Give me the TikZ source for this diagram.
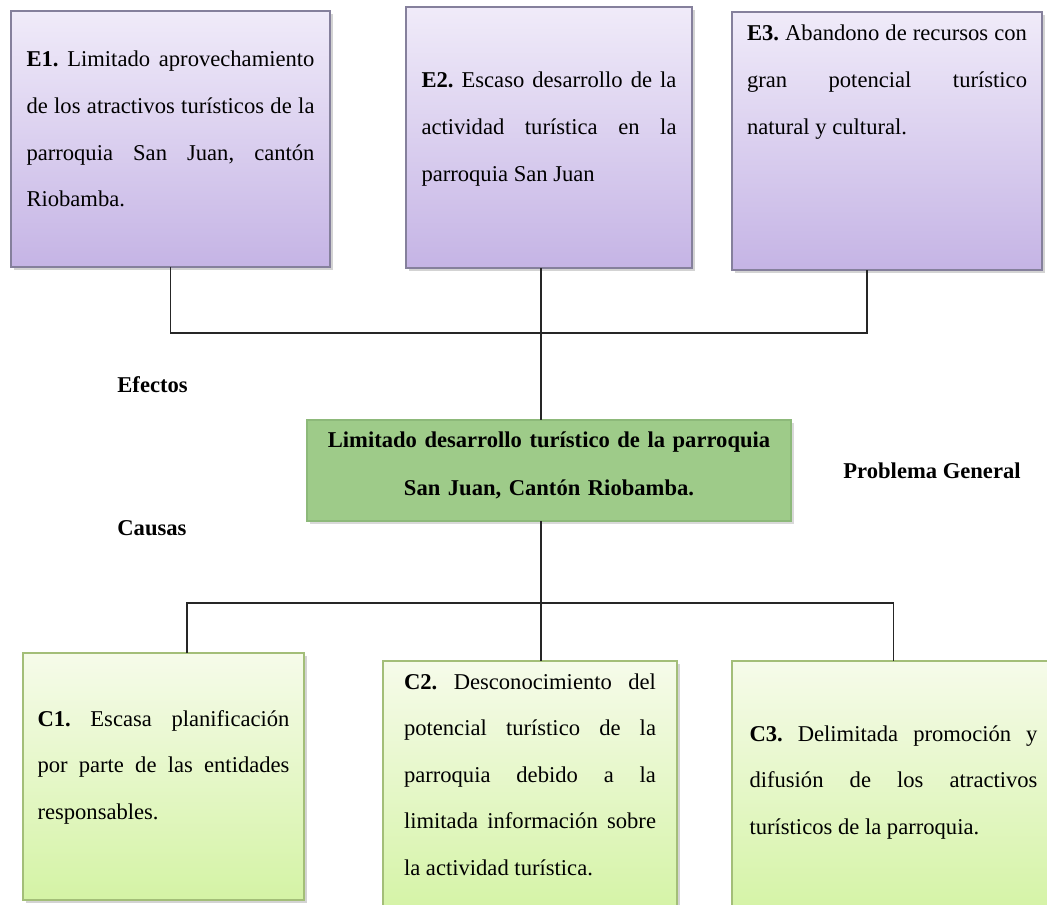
\documentclass[tikz,border=0pt]{standalone}
\usepackage{fontspec}
\setmainfont{Liberation Serif}
\usepackage{tikz}
\usetikzlibrary{shadows, positioning}
\frenchspacing
\definecolor{EffectTop}{HTML}{F0EBF9}
\definecolor{EffectBottom}{HTML}{C5B4E5}
\definecolor{EffectLine}{HTML}{85809C}
\definecolor{ProblemFill}{HTML}{9ECB89}
\definecolor{ProblemLine}{HTML}{8DB97A}
\definecolor{CauseTop}{HTML}{F6FBEA}
\definecolor{CauseBottom}{HTML}{D4F3A5}
\definecolor{CauseLine}{HTML}{A3BE78}
\tikzset{
  effectbox/.style={rectangle, draw=EffectLine, line width=0.6pt, top color=EffectTop, bottom color=EffectBottom, anchor=north west, inner ysep=0pt, outer sep=0pt, align=justify, font=\fontsize{11.3}{23.3}\selectfont, drop shadow={shadow xshift=1.5pt, shadow yshift=-1.5pt, opacity=0.35}},
  causebox/.style={effectbox, draw=CauseLine, top color=CauseTop, bottom color=CauseBottom},
  problembox/.style={rectangle, draw=ProblemLine, line width=0.6pt, fill=ProblemFill, anchor=north west, inner ysep=0pt, outer sep=0pt, align=center, font=\fontsize{11.3}{24}\selectfont\bfseries, drop shadow={shadow xshift=1.5pt, shadow yshift=-1.5pt, opacity=0.3}},
  tag/.style={font=\fontsize{11.3}{14}\selectfont\bfseries, inner sep=0pt},
  link/.style={line width=0.8pt, black!85}
}
\begin{document}
\begin{tikzpicture}[x=0.5pt, y=-0.5pt]
  \useasboundingbox (0,0) rectangle (1047,904);
  \clip (0,0) rectangle (1047,904);

  % efectos
  \node[effectbox, minimum width=159.5pt, text width=144pt, text height=28pt, text depth=100pt] (e1) at (11,11) {\textbf{E1.} Limitado aprovechamiento\linebreak de los atractivos turísticos de la\linebreak parroquia San Juan, cantón\linebreak Riobamba.};
  \node[effectbox, minimum width=143pt, text width=127.5pt, text height=40.5pt, text depth=90pt] (e2) at (406,7) {\textbf{E2.} Escaso desarrollo de la\linebreak actividad turística en la\linebreak parroquia San Juan};
  \node[effectbox, minimum width=155pt, text width=140pt, text height=14.5pt, text depth=114.5pt] (e3) at (732,12) {\textbf{E3.} Abandono de recursos con\linebreak gran potencial turístico\linebreak natural y cultural.};

  % problema
  \node[problembox, minimum width=242pt, text width=230pt, text height=13.5pt, text depth=37pt] (problem) at (307,420) {Limitado desarrollo turístico de la parroquia\\ San Juan, Cantón Riobamba.};
  \node[tag, right=26pt of problem] (general) {Problema General};
  \node[tag, anchor=base west] (efectos) at (117,392) {Efectos};
  \node[tag, anchor=base west] (causas) at (117,535) {Causas};

  % causas
  \node[causebox, minimum width=140.5pt, text width=126pt, text height=36.5pt, text depth=87pt] (c1) at (23,653) {\textbf{C1.} Escasa planificación\linebreak por parte de las entidades\linebreak responsables.};
  \node[causebox, minimum width=147pt, text width=126pt, text height=14pt, text depth=113pt] (c2) at (383,661) {\textbf{C2.} Desconocimiento del\linebreak potencial turístico de la\linebreak parroquia debido a la\linebreak limitada información sobre\linebreak la actividad turística.};
  \node[causebox, minimum width=161.5pt, text width=144pt, text height=40pt, text depth=87pt] (c3) at (732,661) {\textbf{C3.} Delimitada promoción y\linebreak difusión de los atractivos\linebreak turísticos de la parroquia.};

  % conectores
  \coordinate (efork) at (541,333);
  \coordinate (cfork) at (541,603);
  \draw[link] (e1.south) |- (efork) -| ([xshift=-10pt]e3.south);
  \draw[link] (efork |- e2.south) -- (efork |- problem.north);
  \draw[link] (efork |- problem.south) -- (cfork);
  \draw[link] ([xshift=11.75pt]c1.north) |- (cfork) -| (c3.north);
  \draw[link] (cfork) -- (cfork |- c2.north);
\end{tikzpicture}
\end{document}
